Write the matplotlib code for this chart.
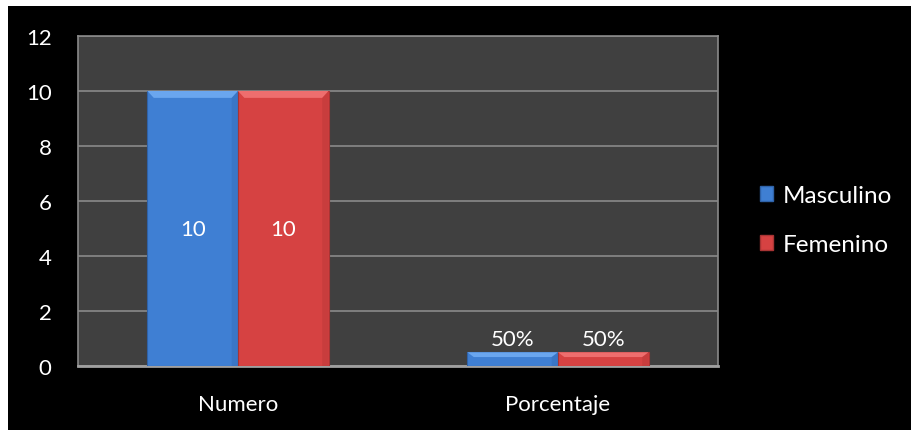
import numpy as np
import matplotlib.pyplot as plt
from matplotlib.patches import Rectangle, Polygon

categories = ['Numero', 'Porcentaje']
masculino = [10, 0.5]
femenino = [10, 0.5]
labels_m = ['10', '50%']
labels_f = ['10', '50%']
series_names = ['Masculino', 'Femenino']

plt.rcParams['font.family'] = ['Lato', 'DejaVu Sans']

BLUE = '#3f7fd3'
RED = '#d64242'
BLUE_LIGHT = '#6aa6ef'
RED_LIGHT = '#ee6e6e'
BLUE_DARK = '#2f62a8'
RED_DARK = '#a83434'


def bevel_bar(ax, x0, w, h, base, light, dark):
    # body
    ax.add_patch(Rectangle((x0, 0), w, h, facecolor=base, edgecolor=dark,
                           linewidth=0.8, zorder=3))
    # bevel size in data units (about 7 px)
    bx = w * 0.07
    by = min(0.25, h * 0.35)
    top = Polygon([(x0, h), (x0 + w, h), (x0 + w - bx, h - by), (x0 + bx, h - by)],
                  closed=True, facecolor=light, edgecolor='none', zorder=4)
    right = Polygon([(x0 + w, 0), (x0 + w, h), (x0 + w - bx, h - by), (x0 + w - bx, 0)],
                    closed=True, facecolor=dark, edgecolor='none', alpha=0.3, zorder=4)
    ax.add_patch(top)
    ax.add_patch(right)


fig = plt.figure(figsize=(9.11, 4.31), dpi=100)
fig.patch.set_facecolor('white')
fig.add_artist(Rectangle((8 / 911, 0), 1, (431 - 7) / 431, transform=fig.transFigure,
                         facecolor='black', edgecolor='none', zorder=0))

ax = fig.add_axes([78 / 911, 64 / 431, 640 / 911, 330 / 431])
ax.set_facecolor('#404040')

x = np.arange(len(categories))
w = 0.283
for i in range(len(categories)):
    bevel_bar(ax, x[i] - w, w, masculino[i], BLUE, BLUE_LIGHT, BLUE_DARK)
    bevel_bar(ax, x[i], w, femenino[i], RED, RED_LIGHT, RED_DARK)
    for xc, v, lab in [(x[i] - w / 2, masculino[i], labels_m[i]),
                       (x[i] + w / 2, femenino[i], labels_f[i])]:
        if v > 2:
            ax.text(xc, v / 2, lab, ha='center', va='center', color='white',
                    fontsize=16, zorder=5)
        else:
            ax.text(xc, v + 0.1, lab, ha='center', va='bottom', color='white',
                    fontsize=16, zorder=5)

ax.set_xlim(-0.5, len(categories) - 0.5)
ax.set_ylim(0, 12)
ax.set_yticks(np.arange(0, 13, 2))
ax.set_xticks(x)
ax.set_xticklabels(categories)
ax.tick_params(colors='white', labelsize=16, length=0)
ax.tick_params(axis='x', pad=20)
ax.tick_params(axis='y', pad=19)
ax.yaxis.grid(True, color='#8a8a8a', linewidth=1.2)
ax.set_axisbelow(True)
for s in ax.spines.values():
    s.set_color('#8a8a8a')
    s.set_linewidth(1.2)
ax.spines['bottom'].set_color('#a0a0a0')
ax.spines['bottom'].set_linewidth(2)

handles = [Rectangle((0, 0), 1, 1, facecolor=BLUE, edgecolor=BLUE_DARK),
           Rectangle((0, 0), 1, 1, facecolor=RED, edgecolor=RED_DARK)]
leg = fig.legend(handles, series_names, loc='center left',
                 bbox_to_anchor=(738 / 911, 1 - 221 / 431), frameon=False,
                 fontsize=17.5, labelcolor='white', handlelength=0.55, handleheight=0.55,
                 handletextpad=0.4, labelspacing=1.15)

fig.savefig('out.png', dpi=100, facecolor=fig.get_facecolor())
